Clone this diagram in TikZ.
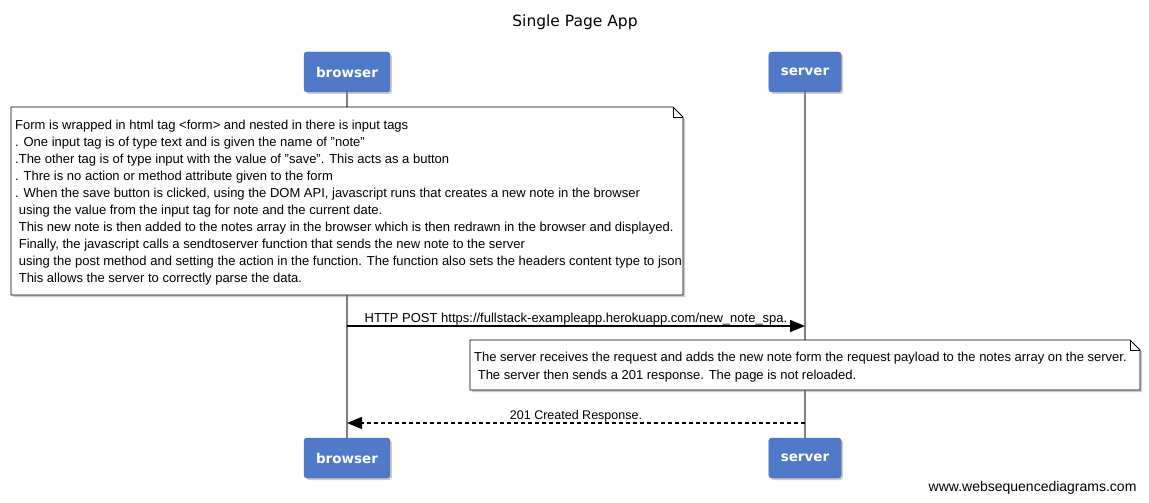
\documentclass[tikz,border=0pt]{standalone}
\usepackage{fontspec}
\setmainfont{Liberation Sans}
\newfontfamily\headfont{DejaVu Sans}
\usetikzlibrary{arrows.meta,shadows}
\definecolor{actorblue}{RGB}{80,121,200}

\begin{document}
\begin{tikzpicture}[x=1pt, y=-1pt,
    actor/.style={draw=actorblue!85!black, fill=actorblue, rounded corners=3pt, minimum height=40pt, inner xsep=12pt,
      text=white, font=\headfont\bfseries\fontsize{13.5}{15}\selectfont,
      drop shadow={shadow xshift=2pt, shadow yshift=-2pt, opacity=0.4}},
    lifeline/.style={draw=gray, line width=1.5pt},
    notebox/.style={draw=black, fill=white, line width=0.8pt,
      drop shadow={shadow xshift=2pt, shadow yshift=-2pt, opacity=0.4}},
    notetext/.style={align=left, inner sep=0pt, font=\fontsize{13}{17}\selectfont},
    msg/.style={line width=1.5pt, -{Triangle[length=15pt,width=12pt]}},
    msglabel/.style={font=\fontsize{13}{15}\selectfont, inner sep=0.5pt}]
    \useasboundingbox (0,0) rectangle (1149,503);

    % draw title
    \node[font=\headfont\fontsize{15.5}{18}\selectfont] (title) at (575,22) {Single Page App};

    % draw participants
    \node[actor] (browsertop) at (347,72) {browser};
    \node[actor] (servertop) at (805,72) {server};
    \node[actor] (browserbot) at (347,458) {browser};
    \node[actor] (serverbot) at (805,458) {server};

    % draw lifelines
    \draw[lifeline] (browsertop.south) -- (browserbot.north);
    \draw[lifeline] (servertop.south) -- (serverbot.north);

    % draw first note
    \draw[notebox] (11,107) -- (673,107) -- (683,117) -- (683,295) -- (11,295) -- cycle;
    \draw[line width=0.8pt] (673,107) -- (673,117) -- (683,117);
    \node[notetext, anchor=north west] (formnote) at (15,120) {Form is wrapped in html tag <form> and nested in there is input tags\\
      . One input tag is of type text and is given the name of "note"\\
      .The other tag is of type input with the value of "save". This acts as a button\\
      . Thre is no action or method attribute given to the form\\
      . When the save button is clicked, using the DOM API, javascript runs that creates a new note in the browser\\
      \ using the value from the input tag for note and the current date.\\
      \ This new note is then added to the notes array in the browser which is then redrawn in the browser and displayed.\\
      \ Finally, the javascript calls a sendtoserver function that sends the new note to the server\\
      \ using the post method and setting the action in the function. The function also sets the headers content type to json\\
      \ This allows the server to correctly parse the data.};

    % draw request
    \coordinate (poststart) at (347,326);
    \coordinate (postend) at (805,326);
    \draw[msg] (poststart) -- node[msglabel, above] (postlabel) {HTTP POST https://fullstack-exampleapp.herokuapp.com/new\_note\_spa.} (postend);

    % draw second note
    \draw[notebox] (470,340) -- (1130,340) -- (1140,350) -- (1140,390) -- (470,390) -- cycle;
    \draw[line width=0.8pt] (1130,340) -- (1130,350) -- (1140,350);
    \node[notetext, anchor=north west, font=\fontsize{13}{18}\selectfont] (servernote) at (474,351.5) {The server receives the request and adds the new note form the request payload to the notes array on the server.\\
      \ The server then sends a 201 response. The page is not reloaded.};

    % draw response
    \coordinate (replystart) at (805,423);
    \coordinate (replyend) at (347,423);
    \draw[msg, dash pattern=on 4pt off 3pt] (replystart) -- node[msglabel, above, font=\fontsize{12.5}{15}\selectfont] (replylabel) {201 Created Response.} (replyend);

    % draw credit
    \node[anchor=east, font=\fontsize{14}{16}\selectfont] (credit) at (1140,488) {www.websequencediagrams.com};
\end{tikzpicture}
\end{document}
